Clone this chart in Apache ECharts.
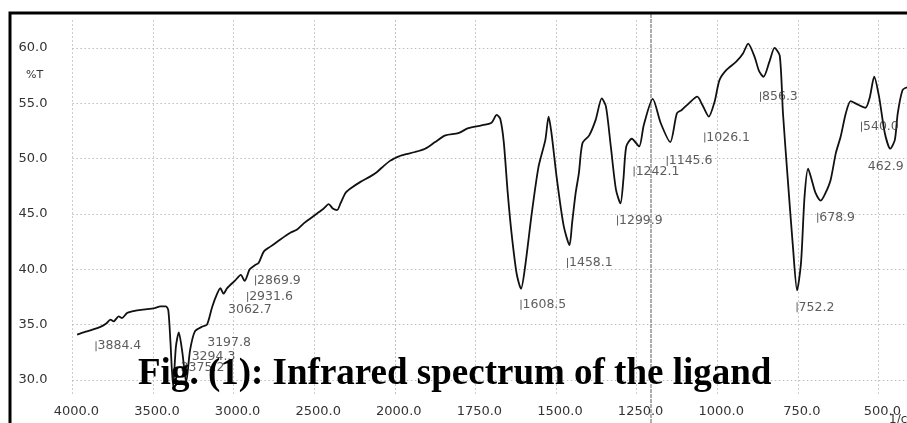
<!DOCTYPE html>
<html>
<head>
<meta charset="utf-8">
<script src="https://cdn.jsdelivr.net/npm/echarts@6/dist/echarts.min.js"></script>
<style>
html, body { margin: 0; padding: 0; background: #fff; }
#chart { width: 907px; height: 423px; }
</style>
</head>
<body>
<div id="chart"></div>
<script>
// IR transmittance trace, 4000–2000 cm-1 section (wavenumber, %T)
const highWavenumbers = [3971, 3930, 3884.4, 3826, 3790, 3764, 3744, 3713, 3692, 3661, 3630, 3599, 3537, 3490,
  3454, 3420, 3405, 3392, 3375.2, 3358, 3340, 3318, 3294.3, 3270, 3240, 3197.8, 3165, 3133, 3102, 3082, 3062.7,
  3040, 2990, 2955, 2931.6, 2900, 2869.9, 2844, 2813, 2772, 2710, 2648, 2606, 2565, 2524, 2482, 2441, 2410, 2385,
  2358, 2337, 2306, 2275, 2213, 2151, 2110, 2068, 2030, 2000];
const highTransmittance = [34.1, 34.3, 34.5, 34.8, 35.1, 35.45, 35.3, 35.75, 35.6, 36.05, 36.2, 36.3, 36.4, 36.5,
  36.65, 36.65, 36.3, 33.5, 29.4, 33.0, 34.3, 32.5, 29.8, 32.7, 34.4, 34.8, 35.0, 36.6, 37.8, 38.3, 37.8,
  38.3, 39.0, 39.5, 38.95, 40.0, 40.35, 40.6, 41.6, 42.05, 42.7, 43.3, 43.6, 44.15, 44.6, 45.05, 45.5, 45.9, 45.5,
  45.35, 45.95, 46.9, 47.3, 47.9, 48.4, 48.8, 49.35, 49.8, 50.05];

// 2000–400 cm-1 section
const lowWavenumbers = [2000, 1979, 1937, 1906, 1875, 1843, 1803, 1772, 1731, 1700, 1684, 1673, 1662, 1650, 1638,
  1622, 1608.5, 1596, 1575, 1554, 1533, 1523, 1514, 1497, 1476, 1458.1, 1450, 1439, 1429, 1418, 1397, 1377, 1358,
  1345, 1330, 1314, 1299.9, 1291, 1282, 1265, 1242.1, 1228, 1200, 1175, 1145.6, 1125, 1110, 1088, 1062, 1046,
  1026.1, 1008, 993, 972, 941, 920, 904, 884, 870, 856.3, 838, 822, 806, 796, 781, 765, 752.2, 740, 729, 718,
  707, 695, 678.9, 664, 648, 632, 617, 601, 586, 565, 540, 527, 513, 498, 480, 462.9, 449, 440, 425, 410];
const lowTransmittance = [50.05, 50.3, 50.6, 50.9, 51.5, 52.1, 52.3, 52.75, 53.0, 53.25, 53.95, 53.6, 51.5, 47.0, 43.3,
  39.6, 38.25, 40.2, 45.1, 49.3, 51.7, 53.8, 52.3, 48.1, 43.9, 42.2, 44.2, 46.9, 48.7, 51.4, 52.1, 53.5, 55.45,
  54.7, 51.1, 47.2, 45.95, 48.1, 51.1, 51.8, 51.1, 53.0, 55.4, 53.2, 51.5, 54.1, 54.4, 55.0, 55.6, 54.85,
  53.8, 55.15, 57.1, 58.0, 58.76, 59.5, 60.4, 59.2, 57.9, 57.4, 58.76, 60.0, 59.3, 54.1, 48.1, 42.0, 38.1, 40.6, 46.6, 49.1,
  48.1, 46.9, 46.2, 46.9, 48.1, 50.5, 52.0, 54.1, 55.2, 54.9, 54.6, 55.5, 57.4, 55.6, 52.3, 50.9, 51.7, 54.1, 56.2, 56.45];

// Picked band positions (cm-1) and %T of the trace at each band
const peakWavenumbers = [3884.4, 3375.2, 3294.3, 3197.8, 3062.7, 2931.6, 2869.9, 1608.5, 1458.1, 1299.9,
  1242.1, 1145.6, 1026.1, 856.3, 752.2, 678.9, 540.0, 462.9];
const peakTransmittance = [34.5, 29.4, 29.8, 34.8, 37.8, 38.95, 40.35, 38.25, 42.2, 45.95,
  51.1, 51.5, 53.8, 57.4, 38.1, 46.2, 54.6, 50.9];

// Where each band label sits relative to its band: [dx, dy] in px, and whether a marker bar is drawn
const peakLabelLayout = {
  '3884.4': [5, 16, true],  '3375.2': [6, -19, false], '3294.3': [4, -25, false],
  '3197.8': [4, 16, false], '3062.7': [3, 16, false],  '2931.6': [3, 16, true],
  '2869.9': [1, 15, true],  '1608.5': [0, 16, true],   '1458.1': [-2, 18, true],
  '1299.9': [-3, 17, true], '1242.1': [-5, 25, true],  '1145.6': [-3, 19, true],
  '1026.1': [-4, 21, true], '856.3': [-3, 20, true],   '752.2': [0, 17, true],
  '678.9': [-3, 17, true],  '540.0': [-4, 19, true],   '462.9': [-24, 18, false]
};

const STEP = 80.6;          // px per major division
const PLOT_LEFT = 72.4;     // 4000 cm-1
const PLOT_TOP = 20.3;
const PLOT_BOTTOM = 27.5;
const SANS = 'DejaVu Sans';

const zip = (xs, ys) => xs.map((x, i) => [x, ys[i]]);

function peakItems(filterFn) {
  return peakWavenumbers.map((w, i) => [w, peakTransmittance[i]])
    .filter(p => filterFn(p[0]))
    .map(p => {
      const lay = peakLabelLayout[p[0].toFixed(1)];
      return {
        value: p,
        symbolOffset: [lay[0], lay[1]],
        itemStyle: { color: lay[2] ? '#3a3a3a' : 'rgba(0,0,0,0)' }
      };
    });
}

const gridLine = { show: true, lineStyle: { color: '#bdbdbd', width: 1, type: [1.5, 2.5] } };
const fmtY = v => (Math.abs(v / 5 - Math.round(v / 5)) < 1e-6 ? v.toFixed(1) : '');

function xAxisFor(gridIndex, min, max, interval, hide2000) {
  return {
    type: 'value', gridIndex, min, max, interval, inverse: true,
    axisLine: { show: false }, axisTick: { show: false },
    splitLine: gridLine,
    axisLabel: {
      margin: 10, fontSize: 13, fontFamily: SANS, color: '#333',
      padding: [0, 0, 0, 8],
      formatter: v => (hide2000 && v === 2000 ? '' : v.toFixed(1))
    }
  };
}

function yAxisFor(gridIndex, labels) {
  return {
    type: 'value', gridIndex, min: 28.6, max: 62.5,
    axisLine: { show: false }, axisTick: { show: false },
    splitLine: Object.assign({ showMinLine: false, showMaxLine: false }, gridLine),
    axisLabel: {
      show: labels, margin: 25, fontSize: 13, fontFamily: SANS, color: '#333',
      formatter: fmtY, showMinLabel: false, showMaxLabel: false
    }
  };
}

const traceStyle = { color: '#111', width: 1.8 };
const labelStyle = {
  show: true, position: 'right', distance: 1,
  fontSize: 12.5, fontFamily: SANS, color: '#333',
  formatter: p => p.value[0].toFixed(1)
};

const gridBase = { top: PLOT_TOP, bottom: PLOT_BOTTOM, containLabel: false, outerBoundsMode: 'none' };

const option = {
  animation: false,
  backgroundColor: '#fff',
  grid: [
    Object.assign({ left: PLOT_LEFT, width: 4 * STEP }, gridBase),
    Object.assign({ left: PLOT_LEFT + 4 * STEP, width: 7 * STEP }, gridBase)
  ],
  xAxis: [
    xAxisFor(0, 2000, 4000, 500, false),
    xAxisFor(1, 250, 2000, 250, true)
  ],
  yAxis: [yAxisFor(0, true), yAxisFor(1, false)],
  series: [
    {
      type: 'line', xAxisIndex: 0, yAxisIndex: 0, data: zip(highWavenumbers, highTransmittance),
      showSymbol: false, smooth: 0.25, clip: false, lineStyle: traceStyle, silent: true, z: 3
    },
    {
      type: 'line', xAxisIndex: 1, yAxisIndex: 1, data: zip(lowWavenumbers, lowTransmittance),
      showSymbol: false, smooth: 0.25, clip: false, lineStyle: traceStyle, silent: true, z: 3
    },
    {
      type: 'scatter', xAxisIndex: 0, yAxisIndex: 0, data: peakItems(w => w >= 2000),
      symbol: 'rect', symbolSize: [1, 10], label: labelStyle, silent: true, clip: false, z: 4
    },
    {
      type: 'scatter', xAxisIndex: 1, yAxisIndex: 1, data: peakItems(w => w < 2000),
      symbol: 'rect', symbolSize: [1, 10], label: labelStyle, silent: true, clip: false, z: 4
    }
  ],
  graphic: [
    {
      type: 'line', z: 1, silent: true,
      shape: { x1: 651, y1: 14, x2: 651, y2: 423 },
      style: { stroke: '#777', lineWidth: 1.2, lineDash: [4, 1] }
    },
    {
      type: 'text', left: 26, top: 70, silent: true,
      style: { text: '%T', fontSize: 11, fontFamily: SANS, fill: '#333' }
    },
    {
      type: 'text', left: 889, top: 414, silent: true,
      style: { text: '1/cm', fontSize: 12, fontFamily: SANS, fill: '#333' }
    },
    {
      type: 'text', z: 100, silent: true,
      x: 138, y: 374,
      style: {
        text: 'Fig. (1): Infrared spectrum of the ligand',
        fontSize: 37, fontWeight: 'bold', fontFamily: 'Liberation Serif',
        fill: '#000', align: 'left', verticalAlign: 'middle'
      }
    },
    {
      type: 'rect', z: 100, silent: true,
      shape: { x: 10, y: 13, width: 1000, height: 1000 },
      style: { fill: null, stroke: '#000', lineWidth: 3 }
    }
  ]
};

const chart = echarts.init(document.getElementById('chart'), null, { renderer: 'canvas' });
chart.setOption(option);
</script>
</body>
</html>
